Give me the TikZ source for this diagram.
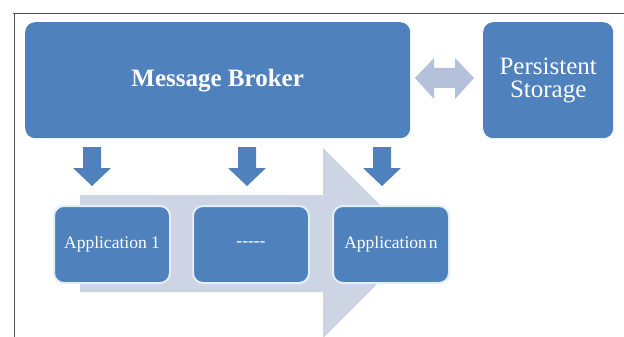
\documentclass[tikz,border=0pt]{standalone}
\usepackage{fontspec}
\setmainfont{Liberation Serif}
\begin{document}
\begin{tikzpicture}[x=1pt,y=-1pt]
  \definecolor{boxblue}{HTML}{4F81BD}
  \definecolor{flowgray}{HTML}{CDD4E3}
  \definecolor{linkgray}{HTML}{B4C1DA}
  \definecolor{rimwhite}{HTML}{E4EEF8}
  \definecolor{framegray}{HTML}{505050}
  \tikzset{
    bigbox/.style={draw=none, fill=boxblue, rounded corners=10pt, text=white,
      minimum height=116pt, anchor=north west},
    appbox/.style={draw=rimwhite, line width=2pt, fill=boxblue, rounded corners=10pt,
      text=white, font=\fontsize{17.5}{19}\selectfont,
      minimum width=116pt, minimum height=77pt, anchor=north west, inner sep=0pt},
    downarrow/.style={fill=boxblue, draw=none},
  }
  \useasboundingbox (0,0) rectangle (624,337);
  \fill[white] (0,0) rectangle (624,337);

  % page frame lines
  \draw[framegray, line width=0.9pt] (13,13) -- (624,13);
  \draw[framegray, line width=0.9pt] (14,13) -- (14,337);

  % broad background flow arrow
  \fill[flowgray] (80,195) -- (323,195) -- (323,148) -- (418,243)
    -- (323,338) -- (323,292) -- (80,292) -- cycle;

  % application boxes
  \node[appbox] (app1) at (53,205) {Application 1};
  \node[appbox] (appm) at (192,205) {{-}{-}{-}{-}{-}};
  \node[appbox] (appn) at (332,205) {Application\hspace{2pt}n};

  % top boxes
  \node[bigbox, minimum width=385pt,
        font=\fontsize{25}{28}\selectfont\bfseries] (broker) at (25,22) {Message Broker};
  \node[bigbox, minimum width=130pt, align=center,
        font=\fontsize{25}{23}\selectfont] (store) at (483,22) {Persistent\\Storage};

  % double-headed link between broker and storage
  \fill[linkgray] (415,78) -- (434,58) -- (434,68) -- (455,68) -- (455,58) -- (474,78)
    -- (455,99) -- (455,88) -- (434,88) -- (434,99) -- cycle;

  % delivery arrows from the broker down to the applications
  \foreach \cx in {92,247,382} {
    \fill[downarrow] (\cx-9,147) -- (\cx+9,147) -- (\cx+9,168) -- (\cx+19,168)
      -- (\cx,186) -- (\cx-19,168) -- (\cx-9,168) -- cycle;
  }
\end{tikzpicture}
\end{document}
